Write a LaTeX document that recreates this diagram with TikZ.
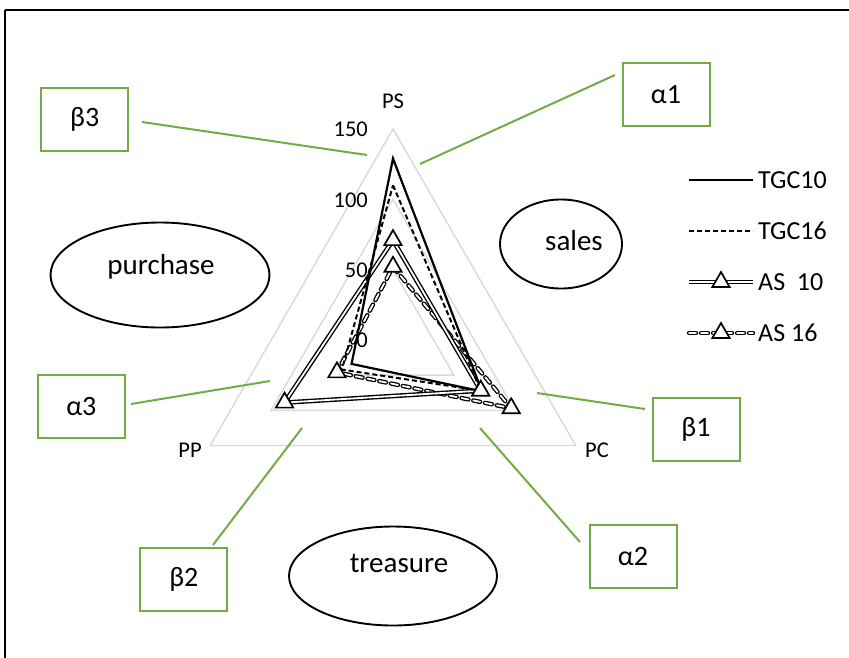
\documentclass[tikz,border=0pt]{standalone}
\usepackage{fontspec}
\setmainfont{Carlito}
\usetikzlibrary{calc,shapes.geometric}
\definecolor{gridgray}{HTML}{D9D9D9}
\definecolor{boxgreen}{HTML}{70AD47}
\begin{document}
\begin{tikzpicture}[x=1pt,y=-1pt,
 grid/.style={draw=gridgray, line width=1.4pt, line join=miter},
 serA/.style={draw=black, line width=2.2pt, line join=miter},
 serB/.style={draw=black, line width=2pt, dash pattern=on 5pt off 3pt},
 serC/.style={draw=black, double=white, double distance=1.8pt, line width=1.4pt},
 serD/.style={draw=black, double=white, double distance=1.8pt, line width=1.3pt, line cap=round, dash pattern=on 7pt off 5pt},
 tri/.style={regular polygon, regular polygon sides=3, draw=black, fill=white, line width=1.7pt, minimum size=20pt, inner sep=0pt},
 box/.style={draw=boxgreen, line width=2pt, minimum width=87pt, minimum height=63pt, inner sep=0pt, font=\fontsize{28}{32}\selectfont},
 ell/.style={ellipse, draw=black, line width=1.9pt, inner sep=0pt},
 etxt/.style={inner sep=0pt, font=\fontsize{29}{34}\selectfont},
 lnk/.style={draw=boxgreen, line width=2pt},
 axl/.style={inner sep=0pt, font=\fontsize{22.5}{26}\selectfont},
 leg/.style={inner sep=0pt, anchor=west, font=\fontsize{26}{30}\selectfont},
 ]
\path[fill=white, use as bounding box] (0,0) rectangle (849,657);
% frame
\draw[line width=2pt] (5,10) -- (852,10);
\draw[line width=1.3pt] (5,10) -- (5,660);
% radar grid
\coordinate (C) at (393,340);
\def\u{1.407}
\foreach \v in {50,100,150}{
  \draw[grid] ($(C)+(-90:{\v*\u})$) -- ($(C)+(30:{\v*\u})$) -- ($(C)+(150:{\v*\u})$) -- cycle;
}
% axis labels
\node[axl] (lps) at (393,101) {PS};
\node[axl] (lpp) at (190,450) {PP};
\node[axl] (lpc) at (597,450) {PC};
\node[axl, anchor=east] (t150) at (368,129) {150};
\node[axl, anchor=east] (t100) at (368,200) {100};
\node[axl, anchor=east] (t50) at (368,270) {50};
\node[axl, anchor=east] (t0) at (368,340) {0};
% series points
\coordinate (aPS) at ($(C)+(-90:{129*\u})$);
\coordinate (aPC) at ($(C)+(30:{73*\u})$);
\coordinate (aPP) at ($(C)+(150:{34*\u})$);
\coordinate (bPS) at ($(C)+(-90:{110*\u})$);
\coordinate (bPC) at ($(C)+(30:{72*\u})$);
\coordinate (bPP) at ($(C)+(150:{42*\u})$);
\coordinate (cPS) at ($(C)+(-90:{71*\u})$);
\coordinate (cPC) at ($(C)+(30:{72*\u})$);
\coordinate (cPP) at ($(C)+(150:{89*\u})$);
\coordinate (dPS) at ($(C)+(-90:{52*\u})$);
\coordinate (dPC) at ($(C)+(30:{97*\u})$);
\coordinate (dPP) at ($(C)+(150:{46*\u})$);
\draw[serD] (dPS) -- (dPC) -- (dPP) -- cycle;
\draw[serC] (cPS) -- (cPC) -- (cPP) -- cycle;
\draw[serB] (bPS) -- (bPC) -- (bPP) -- cycle;
\draw[serA] (aPS) -- (aPC) -- (aPP) -- cycle;
\node[tri] (mc1) at (cPS) {};
\node[tri] (mc2) at (cPC) {};
\node[tri] (mc3) at (cPP) {};
\node[tri] (md1) at (dPS) {};
\node[tri] (md2) at (dPC) {};
\node[tri] (md3) at (dPP) {};
% legend
\coordinate (l1a) at (689,180); \coordinate (l1b) at (753,180);
\coordinate (l2a) at (689,231); \coordinate (l2b) at (753,231);
\coordinate (l3a) at (689,282); \coordinate (l3b) at (753,282);
\coordinate (l4a) at (689,333); \coordinate (l4b) at (753,333);
\draw[serA] (l1a) -- (l1b);
\draw[serB] (l2a) -- (l2b);
\draw[serC] (l3a) -- (l3b);
\draw[serD] (l4a) -- (l4b);
\node[tri] (ml3) at (721,282) {};
\node[tri] (ml4) at (721,333) {};
\node[leg] (g1) at (758,180) {TGC10};
\node[leg] (g2) at (758,231) {TGC16};
\node[leg] (g3) at (758,282) {AS\ \ 10};
\node[leg] (g4) at (758,333) {AS 16};
% ellipses
\node[ell, minimum width=219pt, minimum height=105pt] (purchase) at (160,275) {};
\node[etxt] (purchaseT) at (161,267) {purchase};
\node[ell, minimum width=122pt, minimum height=89pt] (sales) at (561,244) {};
\node[etxt] (salesT) at (574,241) {sales};
\node[ell, minimum width=208pt, minimum height=99pt] (treasure) at (393,576) {};
\node[etxt] (treasureT) at (399,563) {treasure};
% boxes
\node[box] (b3) at (84.7,119) {β3};
\node[box] (a1) at (666,94.4) {α1};
\node[box] (a3) at (81.3,406.5) {α3};
\node[box] (b1) at (696,429.7) {β1};
\node[box] (b2) at (183.8,579) {β2};
\node[box] (a2) at (633,556.3) {α2};
% connectors
\coordinate (e3) at (367,155); \coordinate (s3) at (142,122);
\coordinate (e1) at (420,164); \coordinate (s1) at (615,75);
\coordinate (f3) at (270,381); \coordinate (u3) at (131,404);
\coordinate (f1) at (537,393); \coordinate (u1) at (645,409);
\coordinate (f2) at (302,428); \coordinate (u2) at (213,545);
\coordinate (e2) at (480,428); \coordinate (s2) at (580,542);
\draw[lnk] (s3) -- (e3);
\draw[lnk] (s1) -- (e1);
\draw[lnk] (u3) -- (f3);
\draw[lnk] (u1) -- (f1);
\draw[lnk] (u2) -- (f2);
\draw[lnk] (s2) -- (e2);
\end{tikzpicture}
\end{document}
